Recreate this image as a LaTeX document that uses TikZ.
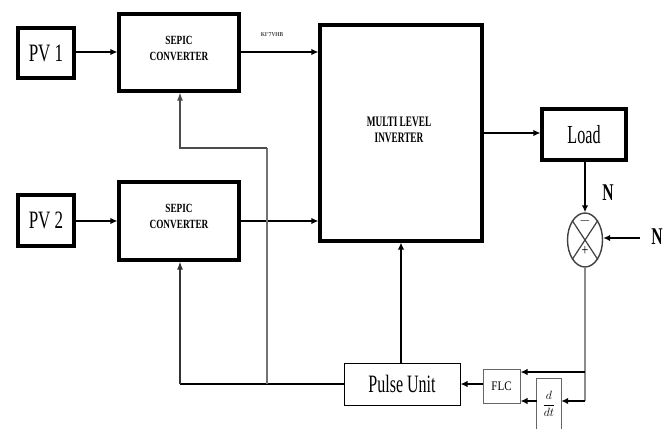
\documentclass[tikz,border=0pt]{standalone}
\usepackage{fontspec}
\setmainfont{Liberation Serif}
\usetikzlibrary{arrows.meta,shapes.geometric}
\newcommand\sqz[2]{\scalebox{#1}[1]{#2}}
\tikzset{
  thickbox/.style={draw, line width=3.2pt, inner sep=0pt, align=center},
  thinbox/.style={draw, line width=1pt, inner sep=0pt, align=center},
  mainarrow/.style={line width=1.8pt, -{Latex[length=7pt,width=6.5pt]}},
  fbarrow/.style={draw=black!70, line width=1.2pt, -{Latex[length=8pt,width=6pt]}},
  fbline/.style={draw=black!55, line width=1.2pt},
  biglabel/.style={font=\fontsize{25}{25}\selectfont},
  boldlabel/.style={font=\fontsize{12.5}{16}\selectfont\bfseries},
}
\begin{document}
\begin{tikzpicture}[x=1pt,y=-1pt]
\useasboundingbox (0,0) rectangle (671,428);
% blocks
\node[thickbox, minimum width=56, minimum height=50, biglabel] (pv1) at (46,53) {\sqz{0.68}{PV 1}};
\node[thickbox, minimum width=120, minimum height=77, boldlabel] (sep1) at (179,52.5) {};
\node[boldlabel, align=center] at (179,48) {\sqz{0.74}{SEPIC}\\\sqz{0.74}{CONVERTER}};
\node[thickbox, minimum width=56, minimum height=51, biglabel] (pv2) at (46,220.5) {\sqz{0.68}{PV 2}};
\node[thickbox, minimum width=120, minimum height=78, boldlabel] (sep2) at (179,221) {};
\node[boldlabel, align=center] at (179,216) {\sqz{0.74}{SEPIC}\\\sqz{0.74}{CONVERTER}};
\node[thickbox, minimum width=162, minimum height=216] (mli) at (401,133) {};
\node[font=\fontsize{14.5}{16}\selectfont\bfseries, align=center] (mlitxt) at (399,130) {\sqz{0.64}{MULTI LEVEL}\\\sqz{0.64}{INVERTER}};
\node[thickbox, minimum width=84, minimum height=51, font=\fontsize{26}{26}\selectfont] (load) at (584,134.5) {\sqz{0.62}{Load}};
\node[draw=black!75, line width=1.4pt, ellipse, minimum width=35, minimum height=54, inner sep=0pt] (sum) at (585,240) {};
\draw[draw=black!75, line width=1.2pt] (sum.north west) -- (sum.south east) (sum.north east) -- (sum.south west);
\node[font=\fontsize{14}{14}\selectfont\bfseries] (minus) at (585,221) {$-$};
\node[font=\fontsize{16}{16}\selectfont] (plus) at (585,251) {\sqz{0.75}{+}};
\node[thinbox, minimum width=116, minimum height=42, biglabel] (pulse) at (402,384) {\sqz{0.64}{Pulse Unit}};
\node[draw=black!60, line width=1pt, minimum width=37, minimum height=34, inner sep=0pt, font=\fontsize{13}{13}\selectfont] (flc) at (501.5,386) {\sqz{0.85}{FLC}};
\node[minimum width=24, minimum height=51, inner sep=0pt, font=\fontsize{13}{13}\selectfont] (dd) at (549,404) {$\displaystyle\frac{d}{dt}$};
\draw[draw=black!60, line width=1pt] (dd.south west) -- (dd.north west) -- (dd.north east) -- (dd.south east);
% labels
\node[font=\fontsize{6}{6}\selectfont\bfseries, text=black!75] (klabel) at (272,35) {\sqz{0.9}{KI'7VHB}};
\node[font=\fontsize{24}{24}\selectfont\bfseries] (n1) at (608,193) {\sqz{0.65}{N}};
\node[font=\fontsize{24}{24}\selectfont\bfseries] (n2) at (657,237) {\sqz{0.65}{N}};
% coordinates
\coordinate (nin) at (640,238);
\coordinate (c1) at (585,372);
\coordinate (c2) at (585,401);
\coordinate (b1) at (180,384);
\coordinate (b2) at (267,384);
\coordinate (b3) at (267,148);
\coordinate (b4) at (180,148);
% main connectors
\draw[mainarrow] (pv1.east |- 0,52) -- (sep1.west |- 0,52);
\draw[mainarrow] (sep1.east |- 0,52) -- (mli.west |- 0,52);
\draw[mainarrow] (pv2.east |- 0,221) -- (sep2.west |- 0,221);
\draw[mainarrow] (sep2.east |- 0,221) -- (mli.west |- 0,221);
\draw[mainarrow] (mli.east |- 0,133) -- (load.west |- 0,133);
\draw[mainarrow, line width=1.5pt] (load.south -| sum.north) -- (sum.north);
\draw[mainarrow] (nin) -- (sum.east |- nin);
% feedback
\draw[fbline, draw=black!45] (sum.south) -- (c1) -- (c2);
\draw[mainarrow, line width=1.5pt] (c1) -- (c1 -| flc.east);
\draw[mainarrow, line width=1.5pt] (c2) -- (c2 -| dd.east);
\draw[mainarrow, line width=1.5pt] (dd.west |- c2) -- (c2 -| flc.east);
\draw[mainarrow, line width=1.8pt] (flc.west |- pulse.east) -- (pulse.east);
\draw[mainarrow, line width=1.4pt] (pulse.north -| mli.south) -- (mli.south);
\draw[line width=1.2pt] (pulse.west) -- (b1);
\draw[fbarrow, draw=black!80] (b1) -- (b1 |- sep2.south);
\draw[fbline] (b2) -- (b3);
\draw[fbarrow] (b3) -- (b4) -- (b4 |- sep1.south);
\end{tikzpicture}
\end{document}
